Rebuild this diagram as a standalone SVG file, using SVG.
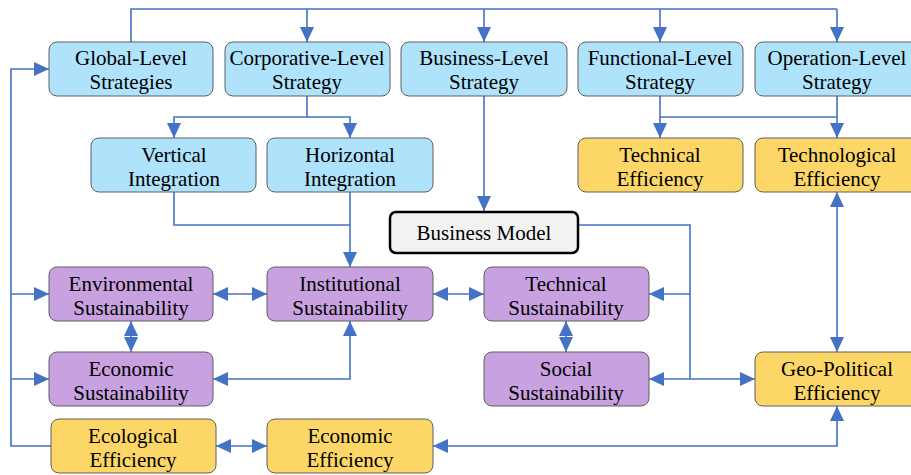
<svg xmlns="http://www.w3.org/2000/svg" width="911" height="475" viewBox="0 0 911 475">
<defs>
<marker id="ah" markerUnits="userSpaceOnUse" markerWidth="15" markerHeight="14" refX="15" refY="7" orient="auto-start-reverse" viewBox="0 0 15 14">
<path d="M0,0 L15,7 L0,14 z" fill="#4472c4"/>
</marker>
</defs>
<rect width="911" height="475" fill="#fff"/>
<g id="connectors" fill="none" stroke="#4472c4" stroke-width="1.6">
<path d="M131,42 V9 H837"/>
<path marker-end="url(#ah)" d="M307,9 V42"/>
<path marker-end="url(#ah)" d="M484,9 V42"/>
<path marker-end="url(#ah)" d="M660,9 V42"/>
<path marker-end="url(#ah)" d="M837,9 V42"/>
<path marker-end="url(#ah)" d="M307,96 V117 H174 V138"/>
<path marker-end="url(#ah)" d="M307,117 H350 V138"/>
<path marker-end="url(#ah)" d="M660,96 V138"/>
<path d="M660,117 H837"/>
<path marker-end="url(#ah)" d="M837,96 V138"/>
<path marker-end="url(#ah)" d="M484,96 V211"/>
<path d="M174,192 V225 H350"/>
<path marker-end="url(#ah)" d="M350,192 V267"/>
<path marker-end="url(#ah)" d="M51,446 H11 V69 H49"/>
<path marker-end="url(#ah)" d="M11,294 H49"/>
<path marker-end="url(#ah)" d="M11,379 H49"/>
<path marker-start="url(#ah)" marker-end="url(#ah)" d="M213,294 H267"/>
<path marker-start="url(#ah)" marker-end="url(#ah)" d="M131,321 V352"/>
<path marker-start="url(#ah)" marker-end="url(#ah)" d="M213,379 H350 V321"/>
<path marker-start="url(#ah)" marker-end="url(#ah)" d="M433,294 H484"/>
<path marker-start="url(#ah)" marker-end="url(#ah)" d="M566,321 V352"/>
<path d="M578,225 H690 V379"/>
<path marker-end="url(#ah)" d="M690,294 H649"/>
<path marker-end="url(#ah)" d="M690,379 H649"/>
<path marker-end="url(#ah)" d="M690,379 H755"/>
<path marker-start="url(#ah)" marker-end="url(#ah)" d="M837,192 V352"/>
<path marker-start="url(#ah)" marker-end="url(#ah)" d="M216,446 H267"/>
<path marker-start="url(#ah)" marker-end="url(#ah)" d="M433,446 H837 V406"/>
</g>
<g id="global-level">
<rect fill="#aee3fb" stroke="#5f5f5f" x="49" y="42" width="164" height="54" rx="8"/>
<text font-family="Liberation Serif" font-size="21" text-anchor="middle" x="131" y="65">Global-Level</text><text font-family="Liberation Serif" font-size="21" text-anchor="middle" x="131" y="89">Strategies</text>
</g>
<g id="corporative-level">
<rect fill="#aee3fb" stroke="#5f5f5f" x="225" y="42" width="165" height="54" rx="8"/>
<text font-family="Liberation Serif" font-size="21" text-anchor="middle" x="307" y="65">Corporative-Level</text><text font-family="Liberation Serif" font-size="21" text-anchor="middle" x="307" y="89">Strategy</text>
</g>
<g id="business-level">
<rect fill="#aee3fb" stroke="#5f5f5f" x="401" y="42" width="166" height="54" rx="8"/>
<text font-family="Liberation Serif" font-size="21" text-anchor="middle" x="484" y="65">Business-Level</text><text font-family="Liberation Serif" font-size="21" text-anchor="middle" x="484" y="89">Strategy</text>
</g>
<g id="functional-level">
<rect fill="#aee3fb" stroke="#5f5f5f" x="578" y="42" width="165" height="54" rx="8"/>
<text font-family="Liberation Serif" font-size="21" text-anchor="middle" x="660" y="65">Functional-Level</text><text font-family="Liberation Serif" font-size="21" text-anchor="middle" x="660" y="89">Strategy</text>
</g>
<g id="operation-level">
<rect fill="#aee3fb" stroke="#5f5f5f" x="755" y="42" width="164" height="54" rx="8"/>
<text font-family="Liberation Serif" font-size="21" text-anchor="middle" x="837" y="65">Operation-Level</text><text font-family="Liberation Serif" font-size="21" text-anchor="middle" x="837" y="89">Strategy</text>
</g>
<g id="vertical-integration">
<rect fill="#aee3fb" stroke="#5f5f5f" x="91" y="138" width="165" height="54" rx="8"/>
<text font-family="Liberation Serif" font-size="21" text-anchor="middle" x="174" y="162">Vertical</text><text font-family="Liberation Serif" font-size="21" text-anchor="middle" x="174" y="186">Integration</text>
</g>
<g id="horizontal-integration">
<rect fill="#aee3fb" stroke="#5f5f5f" x="267" y="138" width="166" height="54" rx="8"/>
<text font-family="Liberation Serif" font-size="21" text-anchor="middle" x="350" y="162">Horizontal</text><text font-family="Liberation Serif" font-size="21" text-anchor="middle" x="350" y="186">Integration</text>
</g>
<g id="technical-efficiency">
<rect fill="#fcd767" stroke="#5f5f5f" x="578" y="138" width="165" height="54" rx="8"/>
<text font-family="Liberation Serif" font-size="21" text-anchor="middle" x="660" y="162">Technical</text><text font-family="Liberation Serif" font-size="21" text-anchor="middle" x="660" y="186">Efficiency</text>
</g>
<g id="technological-efficiency">
<rect fill="#fcd767" stroke="#5f5f5f" x="755" y="138" width="164" height="54" rx="8"/>
<text font-family="Liberation Serif" font-size="21" text-anchor="middle" x="837" y="162">Technological</text><text font-family="Liberation Serif" font-size="21" text-anchor="middle" x="837" y="186">Efficiency</text>
</g>
<g id="business-model">
<rect fill="#f2f2f2" stroke="#000" stroke-width="2.5" x="390" y="212" width="188" height="41" rx="6"/>
<text font-family="Liberation Serif" font-size="21" text-anchor="middle" x="484" y="240">Business Model</text>
</g>
<g id="environmental-sustainability">
<rect fill="#c8a2e0" stroke="#5f5f5f" x="49" y="267" width="164" height="54" rx="8"/>
<text font-family="Liberation Serif" font-size="21" text-anchor="middle" x="131" y="291">Environmental</text><text font-family="Liberation Serif" font-size="21" text-anchor="middle" x="131" y="315">Sustainability</text>
</g>
<g id="institutional-sustainability">
<rect fill="#c8a2e0" stroke="#5f5f5f" x="267" y="267" width="166" height="54" rx="8"/>
<text font-family="Liberation Serif" font-size="21" text-anchor="middle" x="350" y="291">Institutional</text><text font-family="Liberation Serif" font-size="21" text-anchor="middle" x="350" y="315">Sustainability</text>
</g>
<g id="technical-sustainability">
<rect fill="#c8a2e0" stroke="#5f5f5f" x="484" y="267" width="165" height="54" rx="8"/>
<text font-family="Liberation Serif" font-size="21" text-anchor="middle" x="566" y="291">Technical</text><text font-family="Liberation Serif" font-size="21" text-anchor="middle" x="566" y="315">Sustainability</text>
</g>
<g id="economic-sustainability">
<rect fill="#c8a2e0" stroke="#5f5f5f" x="49" y="352" width="164" height="54" rx="8"/>
<text font-family="Liberation Serif" font-size="21" text-anchor="middle" x="131" y="376">Economic</text><text font-family="Liberation Serif" font-size="21" text-anchor="middle" x="131" y="400">Sustainability</text>
</g>
<g id="social-sustainability">
<rect fill="#c8a2e0" stroke="#5f5f5f" x="484" y="352" width="165" height="54" rx="8"/>
<text font-family="Liberation Serif" font-size="21" text-anchor="middle" x="566" y="376">Social</text><text font-family="Liberation Serif" font-size="21" text-anchor="middle" x="566" y="400">Sustainability</text>
</g>
<g id="geo-political-efficiency">
<rect fill="#fcd767" stroke="#5f5f5f" x="755" y="352" width="164" height="54" rx="8"/>
<text font-family="Liberation Serif" font-size="21" text-anchor="middle" x="837" y="376">Geo-Political</text><text font-family="Liberation Serif" font-size="21" text-anchor="middle" x="837" y="400">Efficiency</text>
</g>
<g id="ecological-efficiency">
<rect fill="#fcd767" stroke="#5f5f5f" x="51" y="419" width="165" height="54" rx="8"/>
<text font-family="Liberation Serif" font-size="21" text-anchor="middle" x="133" y="443">Ecological</text><text font-family="Liberation Serif" font-size="21" text-anchor="middle" x="133" y="467">Efficiency</text>
</g>
<g id="economic-efficiency">
<rect fill="#fcd767" stroke="#5f5f5f" x="267" y="419" width="166" height="54" rx="8"/>
<text font-family="Liberation Serif" font-size="21" text-anchor="middle" x="350" y="443">Economic</text><text font-family="Liberation Serif" font-size="21" text-anchor="middle" x="350" y="467">Efficiency</text>
</g>
</svg>
